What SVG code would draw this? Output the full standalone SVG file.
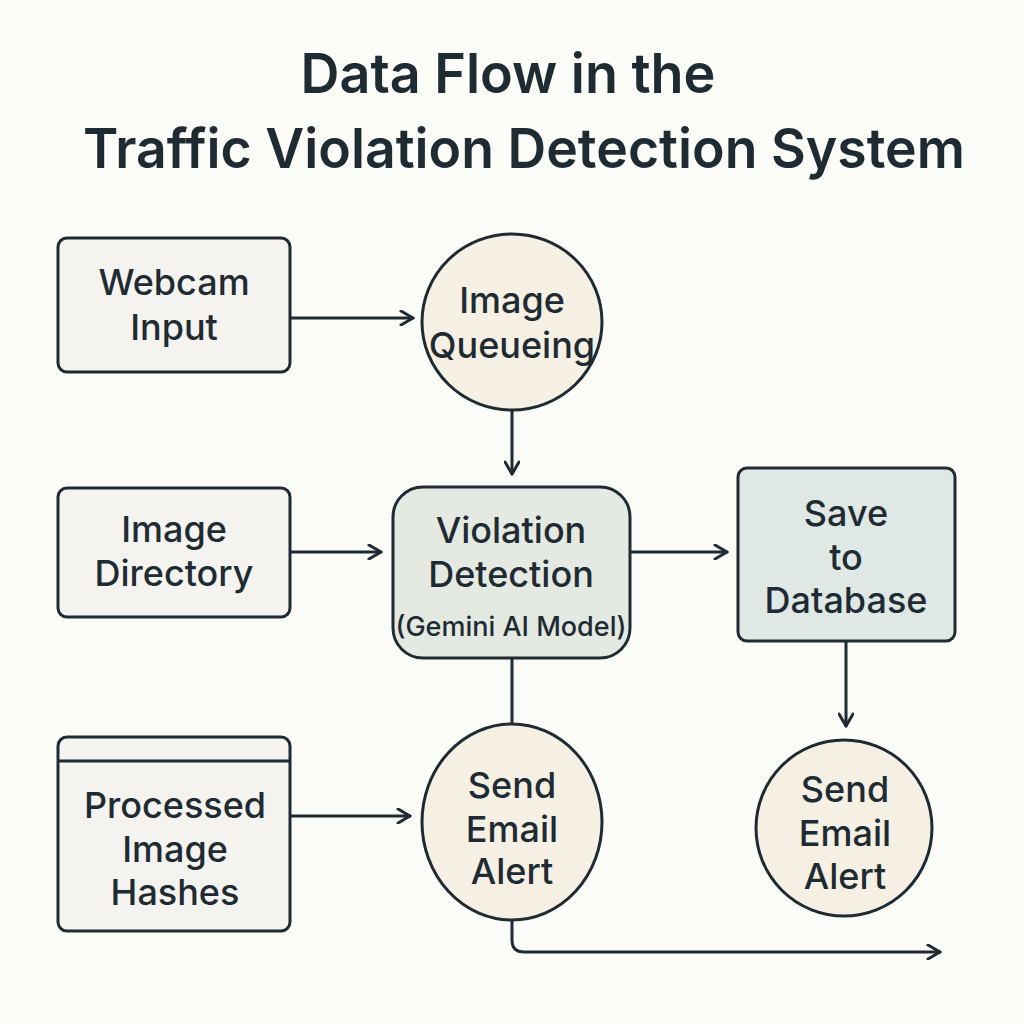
<svg xmlns="http://www.w3.org/2000/svg" width="1024" height="1024" viewBox="0 0 1024 1024">
<defs>
<marker id="arr" viewBox="0 0 16 16" refX="14" refY="8" markerWidth="16" markerHeight="16" markerUnits="userSpaceOnUse" orient="auto">
<path d="M2,1 L14,8 L2,15" fill="none" stroke="#1f2b33" stroke-width="3" stroke-linecap="round" stroke-linejoin="round"/>
</marker>
<style>
.t{font-family:Inter,"Liberation Sans",sans-serif;font-weight:600;fill:#1f2b33;text-anchor:middle}
.n{font-family:Inter,"Liberation Sans",sans-serif;font-weight:500;font-size:36px;fill:#1f2b33;text-anchor:middle}
.s{font-size:27px}
.box{stroke:#1f2b33;stroke-width:3}
.gray{fill:#f4f3f0}
.cream{fill:#f6efe3}
.green{fill:#e4e9e1}
.teal{fill:#dfe8e5}
.c{fill:none;stroke:#1f2b33;stroke-width:3;stroke-linecap:round}
</style>
</defs>
<rect width="1024" height="1024" fill="#fbfbf7"/>
<g id="title">
<text class="t" x="508" y="93" font-size="55" textLength="415" lengthAdjust="spacingAndGlyphs">Data Flow in the</text>
<text class="t" x="524" y="168" font-size="55" textLength="882" lengthAdjust="spacingAndGlyphs">Traffic Violation Detection System</text>
</g>
<g id="connectors">
<line class="c" x1="290" y1="318" x2="413" y2="318" marker-end="url(#arr)"/>
<line class="c" x1="512" y1="411" x2="512" y2="474" marker-end="url(#arr)"/>
<line class="c" x1="290" y1="552" x2="381" y2="552" marker-end="url(#arr)"/>
<line class="c" x1="630" y1="552" x2="727" y2="552" marker-end="url(#arr)"/>
<line class="c" x1="846" y1="641" x2="846" y2="726" marker-end="url(#arr)"/>
<line class="c" x1="512" y1="658" x2="512" y2="723"/>
<line class="c" x1="290" y1="816" x2="410" y2="816" marker-end="url(#arr)"/>
<path class="c" d="M512,918 L512,940 Q512,952 524,952 L940,952" marker-end="url(#arr)"/>
</g>
<g id="webcam-input">
<rect class="box gray" x="58" y="238" width="232" height="134" rx="9"/>
<text class="n" x="174" y="295">Webcam</text>
<text class="n" x="174" y="340">Input</text>
</g>
<g id="image-queueing">
<ellipse class="box cream" cx="512" cy="322" rx="90" ry="88"/>
<text class="n" x="512" y="313">Image</text>
<text class="n" x="512" y="358">Queueing</text>
</g>
<g id="image-directory">
<rect class="box gray" x="58" y="488" width="232" height="129" rx="9"/>
<text class="n" x="174" y="542">Image</text>
<text class="n" x="174" y="586">Directory</text>
</g>
<g id="violation-detection">
<rect class="box green" x="393" y="487" width="237" height="171" rx="30"/>
<text class="n" x="511" y="543">Violation</text>
<text class="n" x="511" y="587">Detection</text>
<text class="n s" x="511" y="636">(Gemini AI Model)</text>
</g>
<g id="save-to-database">
<rect class="box teal" x="738" y="468" width="217" height="173" rx="9"/>
<text class="n" x="846" y="526">Save</text>
<text class="n" x="846" y="570">to</text>
<text class="n" x="846" y="613">Database</text>
</g>
<g id="processed-image-hashes">
<rect class="box gray" x="58" y="737" width="232" height="194" rx="9"/>
<line class="box" x1="58" y1="761" x2="290" y2="761"/>
<text class="n" x="175" y="818">Processed</text>
<text class="n" x="175" y="862">Image</text>
<text class="n" x="175" y="905">Hashes</text>
</g>
<g id="send-email-alert-1">
<ellipse class="box cream" cx="512" cy="822" rx="90" ry="98"/>
<text class="n" x="512" y="798">Send</text>
<text class="n" x="512" y="842">Email</text>
<text class="n" x="512" y="884">Alert</text>
</g>
<g id="send-email-alert-2">
<ellipse class="box cream" cx="844" cy="828" rx="88" ry="88"/>
<text class="n" x="845" y="802">Send</text>
<text class="n" x="845" y="846">Email</text>
<text class="n" x="845" y="889">Alert</text>
</g>
</svg>
